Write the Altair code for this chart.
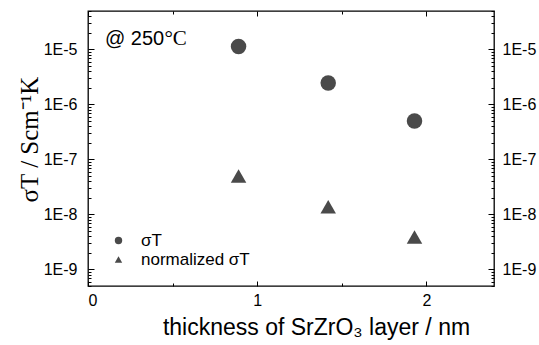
import altair as alt
import pandas as pd

# ---- data ----
thickness = [0.89, 1.42, 1.93]
sigma_T = [1.13e-5, 2.46e-6, 5.0e-7]
norm_sigma_T = [5.0e-8, 1.38e-8, 3.9e-9]
series_names = ["σT", "normalized σT"]

y_major = [1e-9, 1e-8, 1e-7, 1e-6, 1e-5]
mantissas = [2, 3, 4, 5, 6, 7, 8, 9]
y_minor = [m * 10.0 ** e for e in range(-10, -4) for m in mantissas
           if 5e-10 <= m * 10.0 ** e <= 5e-5]
x_major = [0, 1, 2]
x_minor = [0.5, 1.5]

note_x = [0.1]
note_y = [1.18e-5]
note_deg_x = [0.452]

rows = []
for t, v in zip(thickness, sigma_T):
    rows.append({"thickness": t, "value": v, "series": series_names[0]})
for t, v in zip(thickness, norm_sigma_T):
    rows.append({"thickness": t, "value": v, "series": series_names[1]})
df = pd.DataFrame(rows)

note_df = pd.DataFrame({"x": note_x, "y": note_y, "t": ["@ 250"]})
deg_df = pd.DataFrame({"x": note_deg_x, "y": note_y, "t": ["°C"]})

W, H = 406, 275
xs = alt.Scale(domain=[0, 2.4], nice=False, zero=False)
ys = alt.Scale(type="log", domain=[5e-10, 5e-5], nice=False)

SANS = "Liberation Sans"
SERIF = "Liberation Serif"
MARK = "#4a4a4a"

lab_expr = "'1E' + round(log(datum.value) / LN10)"

base = alt.Chart(df)

pts = base.mark_point(filled=True, opacity=1, color=MARK, strokeWidth=0, size=240).encode(
    x=alt.X("thickness:Q", scale=xs, axis=alt.Axis(
        orient="bottom", values=x_major, tickSize=5, offset=-5, domain=False,
        grid=False, labelFont=SANS, labelFontSize=16, labelColor="black",
        labelPadding=6, format="d",
        title="thickness of SrZrO₃ layer / nm", titleFont=SANS, titleFontSize=23,
        titleFontWeight="normal", titleColor="black",
        titleX=228, titleY=53, titleBaseline="alphabetic", titleAlign="center")),
    y=alt.Y("value:Q", scale=ys, axis=alt.Axis(
        orient="left", values=y_major, tickSize=6, offset=-6, domain=False,
        grid=False, labelExpr=lab_expr, labelFont=SANS, labelFontSize=16,
        labelColor="black", labelPadding=11,
        title="σT / Scm⁻¹K", titleFont=SERIF, titleFontSize=25,
        titleFontWeight="normal", titleColor="black", titleAngle=-90,
        titleX=-57, titleY=128, titleBaseline="alphabetic", titleAlign="center")),
    shape=alt.Shape("series:N", sort=series_names,
                    scale=alt.Scale(domain=series_names, range=["circle", "triangle-up"]),
                    legend=alt.Legend(title=None, orient="none", legendX=22, legendY=221,
                                      labelFont=SANS, labelFontSize=17, labelColor="black",
                                      symbolSize=55, symbolFillColor=MARK, symbolStrokeWidth=0,
                                      symbolType="circle",
                                      labelOffset=14, rowPadding=1, padding=0)),
)

minor_lb = base.mark_point(opacity=0).encode(
    x=alt.X("thickness:Q", scale=xs, axis=alt.Axis(
        orient="bottom", values=x_minor, tickSize=3, offset=-3, domain=False,
        grid=False, labels=False, title=None)),
    y=alt.Y("value:Q", scale=ys, axis=alt.Axis(
        orient="left", values=y_minor, tickSize=3, offset=-3, domain=False,
        grid=False, labels=False, title=None)),
)

major_rt = base.mark_point(opacity=0).encode(
    x=alt.X("thickness:Q", scale=xs, axis=alt.Axis(
        orient="top", values=x_major, tickSize=5, offset=-5, domain=False,
        grid=False, labels=False, title=None)),
    y=alt.Y("value:Q", scale=ys, axis=alt.Axis(
        orient="right", values=y_major, tickSize=6, offset=-6, domain=False,
        grid=False, labelExpr=lab_expr, labelFont=SANS, labelFontSize=16,
        labelColor="black", labelPadding=8, title=None)),
)

minor_rt = base.mark_point(opacity=0).encode(
    x=alt.X("thickness:Q", scale=xs, axis=alt.Axis(
        orient="top", values=x_minor, tickSize=3, offset=-3, domain=False,
        grid=False, labels=False, title=None)),
    y=alt.Y("value:Q", scale=ys, axis=alt.Axis(
        orient="right", values=y_minor, tickSize=3, offset=-3, domain=False,
        grid=False, labels=False, title=None)),
)

note = alt.Chart(note_df).mark_text(align="left", baseline="alphabetic", font=SANS,
                                    fontSize=20, color="black").encode(
    x=alt.X("x:Q", scale=xs, axis=None), y=alt.Y("y:Q", scale=ys, axis=None), text="t:N")
deg = alt.Chart(deg_df).mark_text(align="left", baseline="alphabetic", font=SERIF,
                                  fontSize=21, color="black").encode(
    x=alt.X("x:Q", scale=xs, axis=None), y=alt.Y("y:Q", scale=ys, axis=None), text="t:N")

chart = alt.layer(pts, minor_lb, major_rt, minor_rt, note, deg).resolve_axis(
    x="independent", y="independent"
).properties(
    width=W, height=H,
    autosize=alt.AutoSizeParams(type="none"),
    padding={"left": 88, "top": 11, "right": 45, "bottom": 59},
    background="white",
).configure_view(stroke="black", strokeWidth=1.3).configure_axis(
    tickColor="black", tickWidth=1
)

chart.save("out.html", embed_options={"renderer": "svg", "actions": False})
